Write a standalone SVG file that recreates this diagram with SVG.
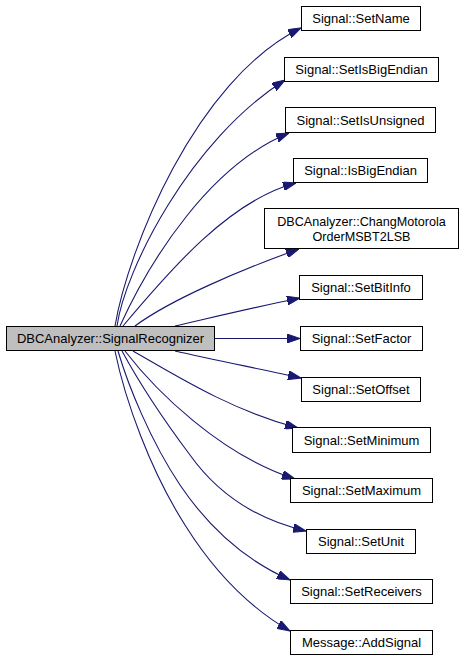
<svg xmlns="http://www.w3.org/2000/svg" width="464" height="661" viewBox="0 0 464 661">
<style>
.n rect{fill:#ffffff;stroke:#000000;stroke-width:1}
.n.main rect{fill:#bfbfbf}
.n text{font-family:"Liberation Sans",Arial,sans-serif;font-size:13px;fill:#000000;text-anchor:middle}
.n text.two{font-size:12.6px}
.e path{fill:none;stroke:#191970;stroke-width:1.1;marker-end:url(#ah)}
</style>
<defs>
<marker id="ah" viewBox="0 0 13 9" refX="13" refY="4.5" markerWidth="13" markerHeight="9" markerUnits="userSpaceOnUse" orient="auto">
<path d="M0,0 L13,4.5 L0,9 z" fill="#191970" stroke="#191970" stroke-width="1"/>
</marker>
</defs>
<rect width="464" height="661" fill="#ffffff"/>
<g id="edges" class="e">
<path d="M115,326 C128,250 195,80 301,28"/>
<path d="M117,326 C125,270 190,140 285,80"/>
<path d="M120,326 C150,260 210,165 289,133"/>
<path d="M123,326 C170,270 230,200 296,183"/>
<path d="M135,326 C170,300 240,270 299,249"/>
<path d="M175,326 C210,318 260,306 300,298"/>
<path d="M215,338.5 L300,338.5"/>
<path d="M175,351 C210,359 260,369 301,378"/>
<path d="M133,351 C175,375 230,410 298,428"/>
<path d="M125,351 C155,390 220,455 295,479"/>
<path d="M122,351 C135,375 160,415 190,455 C215,490 250,518 306,531"/>
<path d="M118,351 C128,385 150,440 180,485 C205,522 240,558 290,580"/>
<path d="M115,351 C125,400 150,470 185,525 C210,565 245,605 290,631"/>
</g>
<g id="main" class="n main"><rect x="6.5" y="326.5" width="208" height="24"/><text x="110.5" y="343">DBCAnalyzer::SignalRecognizer</text></g>
<g id="setname" class="n"><rect x="301.5" y="6.5" width="119" height="24"/><text x="361" y="23">Signal::SetName</text></g>
<g id="setisbigendian" class="n"><rect x="284.5" y="57.5" width="154" height="24"/><text x="361.5" y="74">Signal::SetIsBigEndian</text></g>
<g id="setisunsigned" class="n"><rect x="285.5" y="107.5" width="150" height="25"/><text x="360.5" y="124.5">Signal::SetIsUnsigned</text></g>
<g id="isbigendian" class="n"><rect x="293.5" y="158.5" width="134" height="24"/><text x="360.5" y="175">Signal::IsBigEndian</text></g>
<g id="changmotorola" class="n"><rect x="264.5" y="208.5" width="194" height="40"/><text class="two" x="361.5" y="226">DBCAnalyzer::ChangMotorola</text><text class="two" x="361.5" y="240.5">OrderMSBT2LSB</text></g>
<g id="setbitinfo" class="n"><rect x="299.5" y="275.5" width="123" height="24"/><text x="361" y="292">Signal::SetBitInfo</text></g>
<g id="setfactor" class="n"><rect x="300.5" y="326.5" width="122" height="24"/><text x="361.5" y="343">Signal::SetFactor</text></g>
<g id="setoffset" class="n"><rect x="301.5" y="377.5" width="119" height="24"/><text x="361" y="394">Signal::SetOffset</text></g>
<g id="setminimum" class="n"><rect x="292.5" y="427.5" width="138" height="25"/><text x="361.5" y="444.5">Signal::SetMinimum</text></g>
<g id="setmaximum" class="n"><rect x="290.5" y="478.5" width="142" height="24"/><text x="361.5" y="495">Signal::SetMaximum</text></g>
<g id="setunit" class="n"><rect x="306.5" y="529.5" width="109" height="24"/><text x="361" y="546">Signal::SetUnit</text></g>
<g id="setreceivers" class="n"><rect x="290.5" y="579.5" width="142" height="24"/><text x="361.5" y="596">Signal::SetReceivers</text></g>
<g id="addsignal" class="n"><rect x="290.5" y="630.5" width="142" height="24"/><text x="361.5" y="647">Message::AddSignal</text></g>
</svg>
